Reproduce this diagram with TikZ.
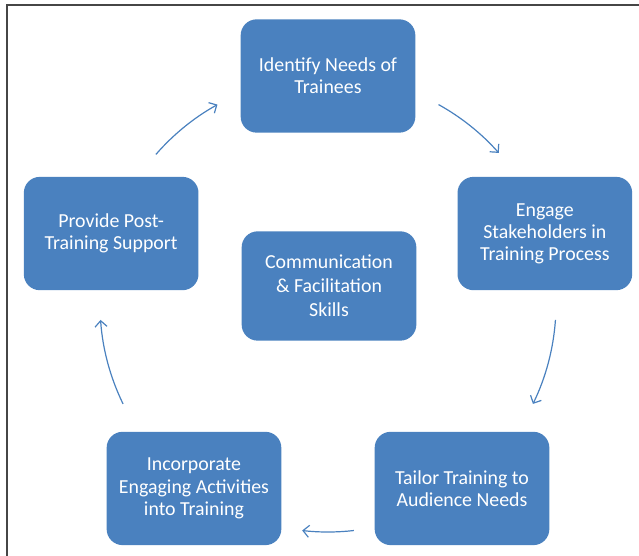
\documentclass[tikz,border=0pt]{standalone}
\usepackage{fontspec}
\setmainfont{Carlito}
\usetikzlibrary{arrows.meta,positioning}
\definecolor{stageblue}{RGB}{74,129,191}

\begin{document}
\begin{tikzpicture}[x=0.75pt,y=0.75pt]
	\def\ringr{228}
	\tikzset{stage/.style={fill=stageblue,rounded corners=12pt,minimum width=131pt,minimum height=85pt,inner sep=0pt,align=center,text=white,font=\fontsize{14.9}{16.6}\selectfont},
		cyc/.style={draw=stageblue,line width=0.9pt,-{Straight Barb[length=4.5pt,width=9pt]}}}
	\def\ringarrow#1#2{\draw[cyc] (ring) ++(#1:\ringr) arc[radius=\ringr,start angle=#1,end angle=#2];}
	\useasboundingbox (0,0) rectangle (639,556);
	\draw[gray!55!black,line width=1.1pt] (7,0) -- (7,551) -- (639,551);
	\coordinate (ring) at (328,252);
	% the five stages sit on a regular pentagon
	\node[stage] (needs) at ([shift={(90:\ringr)}]ring) {Identify Needs of\\Trainees};
	\node[stage] (engage) at ([shift={(18:\ringr)}]ring) {Engage\\Stakeholders in\\Training Process};
	\node[stage] (tailor) at ([shift={(-54:\ringr)}]ring) {Tailor Training to\\Audience Needs};
	\node[stage] (activities) at ([shift={(234:\ringr)}]ring) {Incorporate\\Engaging Activities\\into Training};
	\node[stage] (support) at ([shift={(162:\ringr)}]ring) {Provide Post-\\Training Support};
	\node[stage,minimum height=82pt,font=\fontsize{14.9}{18}\selectfont] (skills) at (329,270) {Communication\\\& Facilitation\\Skills};
	%\draw (needs) -- (engage);
	\ringarrow{61}{41.5}
	\ringarrow{-4}{-26}
	\ringarrow{-83.5}{-96.5}
	\ringarrow{206}{184}
	\ringarrow{139}{119}
\end{tikzpicture}
\end{document}
